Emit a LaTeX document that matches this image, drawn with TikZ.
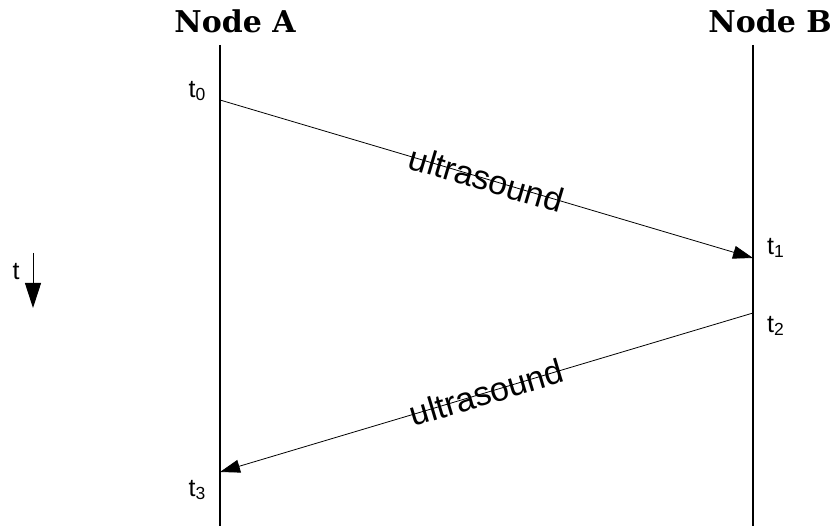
\documentclass[tikz,border=0pt]{standalone}
\usepackage{fontspec}
\setmainfont{Liberation Serif}
\setsansfont{Liberation Sans}
\newfontfamily\titlefont{DejaVu Serif}
\usetikzlibrary{positioning, calc, arrows.meta}

\begin{document}
\begin{tikzpicture}[
  x=1pt, y=-1pt,
  title/.style={font=\titlefont\fontsize{30}{30}\selectfont\bfseries, anchor=base},
  tlab/.style={font=\sffamily\fontsize{25}{25}\selectfont, inner sep=0pt},
  life/.style={black, line width=1.4pt},
  msg/.style={black, line width=0.8pt, -{Triangle[length=20pt, width=13pt]}},
  wave/.style={font=\sffamily\fontsize{34}{34}\selectfont, midway, sloped, inner sep=0pt},
  timearrow/.style={black, line width=1pt, -{Triangle[length=25pt, width=16pt]}},
]
\useasboundingbox (0,0) rectangle (839,526);

% Titles
\node[title] (titleA) at (235,33) {Node A};
\node[title] (titleB) at (770,33) {Node B};

% Lifelines
\coordinate (Atop) at (220,45);
\coordinate (Abot) at (220,526);
\coordinate (Btop) at (753,45);
\coordinate (Bbot) at (753,526);
\draw[life] (Atop) -- (Abot);
\draw[life] (Btop) -- (Bbot);

% Events
\coordinate (A0) at (220,100);
\coordinate (B1) at (753,258);
\coordinate (B2) at (753,313);
\coordinate (A3) at (220,472);

\node[tlab, anchor=east] (t0) at (206,91) {t\textsubscript{0}};
\node[tlab, anchor=west] (t1) at (767,248) {t\textsubscript{1}};
\node[tlab, anchor=west] (t2) at (767,326) {t\textsubscript{2}};
\node[tlab, anchor=east] (t3) at (206,490) {t\textsubscript{3}};

% Messages
\draw[msg] (A0) -- node[wave] (up) {ultrasound} (B1);
\draw[msg] (B2) -- node[wave] (down) {ultrasound} (A3);

% Time axis
\coordinate (ttop) at (33,253);
\coordinate (tbot) at (33,308);
\draw[timearrow] (ttop) -- (tbot);
\node[tlab] (tlabel) at (16,272) {t};
\end{tikzpicture}
\end{document}
